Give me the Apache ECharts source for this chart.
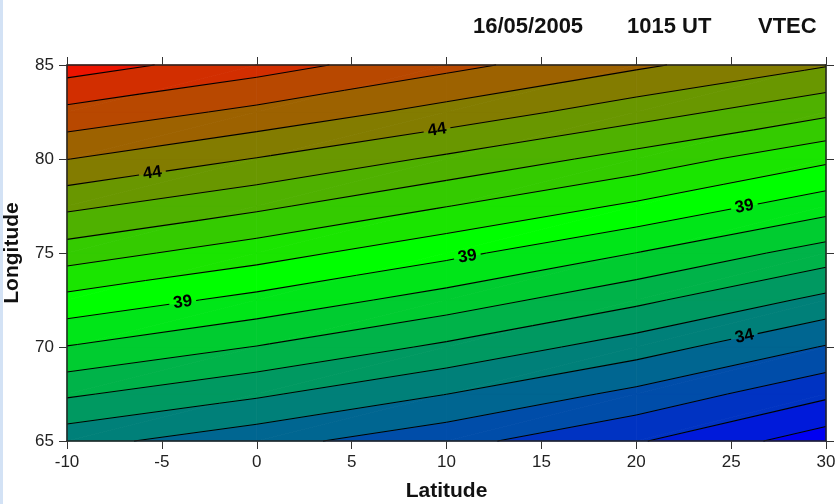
<!DOCTYPE html>
<html>
<head>
<meta charset="utf-8">
<title>VTEC 16/05/2005 1015 UT</title>
<script src="https://cdn.jsdelivr.net/npm/echarts@6/dist/echarts.min.js"></script>
<style>
  html, body { margin: 0; padding: 0; background: #fff; }
  #main { width: 839px; height: 504px; }
</style>
</head>
<body>
<div id="main"></div>
<script>
// grid nodes the map was read at
var lats = [-10, 0, 10, 20, 30];
var lons = [65, 67.5, 70, 72.5, 75, 77.5, 80, 82.5, 85];

// VTEC (one value per lon above)
var vtecLatM10 = [34.35, 36.15, 37.96, 39.69, 41.50, 43.22, 45.02, 46.73, 48.48];
var vtecLat0   = [33.36, 35.16, 36.96, 38.70, 40.44, 42.22, 43.95, 45.75, 47.44];
var vtecLat10  = [32.33, 34.01, 35.80, 37.56, 39.27, 41.03, 42.81, 44.64, 46.29];
var vtecLat20  = [31.10, 32.73, 34.48, 36.24, 37.99, 39.82, 41.61, 43.45, 45.18];
var vtecLat30  = [29.46, 31.21, 32.93, 34.73, 36.55, 38.42, 40.21, 42.24, 44.07];
var vtec = [vtecLatM10, vtecLat0, vtecLat10, vtecLat20, vtecLat30];

var contourLevels = [30, 31, 32, 33, 34, 35, 36, 37, 38, 39, 40, 41, 42, 43, 44, 45, 46, 47, 48];
// labelled contours: [level, latitude where the label sits]
var labelSpots = [[44, -5.5], [44, 9.5], [39, -3.9], [39, 11.1], [39, 25.7], [34, 25.7]];

var LABEL_R = 13.5;

// red -> green -> blue like the original colour scale
function vtecColor(v) {
  var red = [236, 20, 0], green = [0, 255, 0], blue = [0, 0, 242];
  var from = green, to, t;
  if (v >= 39.5) { to = red; t = Math.min(1, (v - 39.5) / 9); }
  else { to = blue; t = Math.min(1, (39.5 - v) / 10); }
  var c = [0, 1, 2].map(function (k) { return Math.round(from[k] + (to[k] - from[k]) * t); });
  return 'rgb(' + c.join(',') + ')';
}

var bands = [];
for (var k = -1; k < contourLevels.length; k++) {
  var lo = k < 0 ? -Infinity : contourLevels[k];
  var hi = k + 1 < contourLevels.length ? contourLevels[k + 1] : Infinity;
  var mid = k < 0 ? contourLevels[0] - 0.5 : contourLevels[k] + 0.5;
  bands.push({ lo: lo, hi: hi, color: vtecColor(mid) });
}

var cells = [];
for (var i = 0; i < lats.length - 1; i++) {
  for (var j = 0; j < lons.length - 1; j++) cells.push([i, j]);
}

function idxOf(arr, x) {
  for (var n = 0; n < arr.length - 2; n++) if (x < arr[n + 1]) return n;
  return arr.length - 2;
}

// same triangle split as cellTriangles
function valueAt(lat, lon) {
  var i = idxOf(lats, lat), j = idxOf(lons, lon);
  var u = (lat - lats[i]) / (lats[i + 1] - lats[i]);
  var w = (lon - lons[j]) / (lons[j + 1] - lons[j]);
  var v00 = vtec[i][j], v10 = vtec[i + 1][j], v01 = vtec[i][j + 1], v11 = vtec[i + 1][j + 1];
  if (u >= w) return v00 + u * (v10 - v00) + w * (v11 - v10);
  return v00 + w * (v01 - v00) + u * (v11 - v01);
}

function lonAt(level, lat) {
  var a = lons[0], b = lons[lons.length - 1];
  for (var n = 0; n < 40; n++) {
    var m = (a + b) / 2;
    if (valueAt(lat, m) < level) a = m; else b = m;
  }
  return (a + b) / 2;
}

function labelPlace(spot, api) {
  var level = spot[0], lat = spot[1];
  var c = api.coord([lat, lonAt(level, lat)]);
  var pa = api.coord([lat - 1.5, lonAt(level, lat - 1.5)]);
  var pb = api.coord([lat + 1.5, lonAt(level, lat + 1.5)]);
  return { x: c[0], y: c[1], angle: Math.atan2(pa[1] - pb[1], pb[0] - pa[0]) };
}

function cellTriangles(i, j, api) {
  function pt(a, b) {
    var c = api.coord([lats[a], lons[b]]);
    return { x: c[0], y: c[1], v: vtec[a][b] };
  }
  var p00 = pt(i, j), p10 = pt(i + 1, j), p01 = pt(i, j + 1), p11 = pt(i + 1, j + 1);
  return [[p00, p10, p11], [p00, p01, p11]];
}

function clipPoly(poly, level, sign) {
  var out = [];
  for (var n = 0; n < poly.length; n++) {
    var a = poly[n], b = poly[(n + 1) % poly.length];
    var da = sign * (a.v - level), db = sign * (b.v - level);
    if (da >= 0) out.push(a);
    if ((da >= 0) !== (db >= 0)) {
      var t = da / (da - db);
      out.push({ x: a.x + t * (b.x - a.x), y: a.y + t * (b.y - a.y), v: a.v + t * (b.v - a.v) });
    }
  }
  return out;
}

function renderBands(params, api) {
  var tris = cellTriangles(api.value(0), api.value(1), api);
  var children = [];
  tris.forEach(function (tri) {
    bands.forEach(function (band) {
      var poly = clipPoly(clipPoly(tri, band.lo, 1), band.hi, -1);
      if (poly.length < 3) return;
      children.push({
        type: 'polygon',
        shape: { points: poly.map(function (p) { return [p.x, p.y]; }) },
        style: { fill: band.color, stroke: band.color, lineWidth: 0.8 }
      });
    });
  });
  return { type: 'group', children: children };
}

// drop the part of a segment that runs under a contour label
function cutSegment(a, b, holes) {
  var parts = [[a, b]];
  holes.forEach(function (h) {
    var next = [];
    parts.forEach(function (s) {
      var p = s[0], q = s[1];
      var dx = q[0] - p[0], dy = q[1] - p[1];
      var fx = p[0] - h.x, fy = p[1] - h.y;
      var A = dx * dx + dy * dy, B = 2 * (fx * dx + fy * dy), C = fx * fx + fy * fy - LABEL_R * LABEL_R;
      var disc = B * B - 4 * A * C;
      if (A === 0 || disc <= 0) { next.push(s); return; }
      var t1 = (-B - Math.sqrt(disc)) / (2 * A), t2 = (-B + Math.sqrt(disc)) / (2 * A);
      if (t2 <= 0 || t1 >= 1) { next.push(s); return; }
      if (t1 > 0) next.push([p, [p[0] + dx * t1, p[1] + dy * t1]]);
      if (t2 < 1) next.push([[p[0] + dx * t2, p[1] + dy * t2], q]);
    });
    parts = next;
  });
  return parts;
}

function renderLines(params, api) {
  var tris = cellTriangles(api.value(0), api.value(1), api);
  var holes = labelSpots.map(function (s) { return labelPlace(s, api); });
  var children = [];
  tris.forEach(function (tri) {
    contourLevels.forEach(function (L) {
      var Lx = L + 1e-6, pts = [];
      for (var n = 0; n < 3; n++) {
        var a = tri[n], b = tri[(n + 1) % 3];
        if ((a.v - Lx) * (b.v - Lx) < 0) {
          var t = (Lx - a.v) / (b.v - a.v);
          pts.push([a.x + t * (b.x - a.x), a.y + t * (b.y - a.y)]);
        }
      }
      if (pts.length !== 2) return;
      cutSegment(pts[0], pts[1], holes).forEach(function (s) {
        children.push({
          type: 'line',
          shape: { x1: s[0][0], y1: s[0][1], x2: s[1][0], y2: s[1][1] },
          style: { stroke: '#000', lineWidth: 1.1 }
        });
      });
    });
  });
  return { type: 'group', children: children };
}

function renderLabels(params, api) {
  var spot = labelSpots[params.dataIndex];
  var p = labelPlace(spot, api);
  return {
    type: 'text',
    x: p.x, y: p.y, rotation: p.angle,
    style: {
      text: String(spot[0]),
      font: 'bold 17px "Liberation Sans", Arial, sans-serif',
      fill: '#000', align: 'center', verticalAlign: 'middle'
    }
  };
}

var tickFont = { fontFamily: '"Liberation Sans", Arial, sans-serif', fontSize: 17, color: '#222' };
var nameFont = { fontFamily: '"Liberation Sans", Arial, sans-serif', fontSize: 21, fontWeight: 'bold', color: '#111' };
var frameLine = { show: true, onZero: false, lineStyle: { color: '#222', width: 1.5 } };
var frameTick = { show: true, inside: false, length: 8, lineStyle: { color: '#333', width: 1 } };

var chart = echarts.init(document.getElementById('main'));
chart.setOption({
  animation: false,
  backgroundColor: '#fff',
  grid: { left: 67, right: 13, top: 65, bottom: 63, containLabel: false, outerBoundsMode: 'none' },
  xAxis: [{
    type: 'value', min: -10, max: 30, interval: 5, position: 'bottom', z: 5,
    name: 'Latitude', nameLocation: 'middle', nameGap: 40, nameTextStyle: nameFont,
    axisLine: frameLine, axisTick: frameTick,
    axisLabel: Object.assign({ margin: 13 }, tickFont),
    splitLine: { show: false }
  }, {
    type: 'value', min: -10, max: 30, interval: 5, position: 'top', z: 5,
    axisLine: frameLine, axisTick: frameTick,
    axisLabel: { show: false }, splitLine: { show: false }
  }],
  yAxis: [{
    type: 'value', min: 65, max: 85, interval: 5, position: 'left', z: 5,
    name: 'Longitude', nameLocation: 'middle', nameGap: 44, nameTextStyle: nameFont,
    axisLine: frameLine, axisTick: frameTick,
    axisLabel: Object.assign({ margin: 13 }, tickFont),
    splitLine: { show: false }
  }, {
    type: 'value', min: 65, max: 85, interval: 5, position: 'right', z: 5,
    axisLine: frameLine, axisTick: frameTick,
    axisLabel: { show: false }, splitLine: { show: false }
  }],
  graphic: [
    { type: 'rect', left: 0, top: 0, shape: { width: 3, height: 504 }, style: { fill: '#d3e2f5' } },
    { type: 'text', left: 473, top: 16, style: { text: '16/05/2005', font: 'bold 22px "Liberation Sans", Arial, sans-serif', fill: '#111' } },
    { type: 'text', left: 627, top: 16, style: { text: '1015 UT', font: 'bold 22px "Liberation Sans", Arial, sans-serif', fill: '#111' } },
    { type: 'text', left: 758, top: 16, style: { text: 'VTEC', font: 'bold 22px "Liberation Sans", Arial, sans-serif', fill: '#111' } }
  ],
  series: [{
    type: 'custom', name: 'bands', z: 2, silent: true,
    xAxisIndex: 0, yAxisIndex: 0,
    renderItem: renderBands, data: cells
  }, {
    type: 'custom', name: 'contours', z: 3, silent: true,
    xAxisIndex: 0, yAxisIndex: 0,
    renderItem: renderLines, data: cells
  }, {
    type: 'custom', name: 'labels', z: 4, silent: true,
    xAxisIndex: 0, yAxisIndex: 0,
    renderItem: renderLabels, data: labelSpots
  }]
});
</script>
</body>
</html>
